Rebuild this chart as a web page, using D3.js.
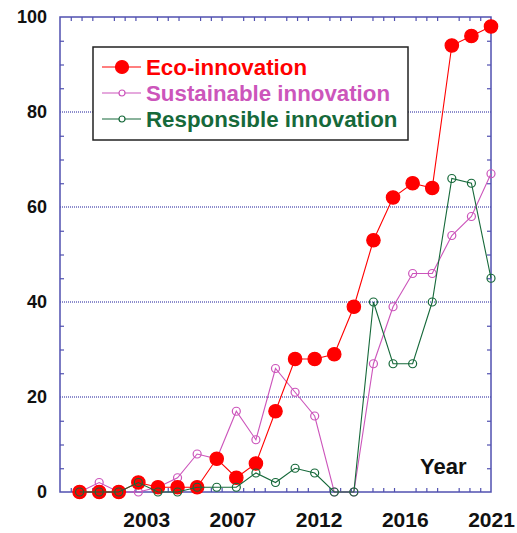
<!DOCTYPE html>
<html>
<head>
<meta charset="utf-8">
<script src="https://cdn.jsdelivr.net/npm/d3@7"></script>
<style>
  body { margin: 0; background: #fff; }
  text { font-family: "Liberation Sans", Arial, sans-serif; font-weight: bold; }
</style>
</head>
<body>
<svg id="chart"></svg>
<script>
const width = 517;
const height = 533;

// data
const years = d3.range(2000, 2022);
const eco  = [0, 0, 0, 2, 1, 1, 1, 7, 3, 6, 17, 28, 28, 29, 39, 53, 62, 65, 64, 94, 96, 98];
const sust = [0, 2, 0, 0, 1, 3, 8, 7, 17, 11, 26, 21, 16, 0, 0, 27, 39, 46, 46, 54, 58, 67];
const resp = [0, 0, 0, 2, 0, 0, 1, 1, 1, 4, 2, 5, 4, 0, 0, 40, 27, 27, 40, 66, 65, 45];

const seriesNames = ["Eco-innovation", "Sustainable innovation", "Responsible innovation"];
const yLabels = [0, 20, 40, 60, 80, 100];
const xLabelPos = [2003.4, 2007.8, 2012.2, 2016.6, 2021];
const xLabelText = ["2003", "2007", "2012", "2016", "2021"];

const axisColor = "#5050b0";
const colors = ["#ff0000", "#cc55bb", "#16693a"];

const margin = {left: 60, right: 26, top: 17, bottom: 41};

const svg = d3.select("#chart")
  .attr("width", width)
  .attr("height", height);

const x = d3.scaleLinear().domain([1999, 2021]).range([margin.left, width - margin.right]);
const y = d3.scaleLinear().domain([0, 100]).range([height - margin.bottom, margin.top]);

// dotted grid lines
svg.append("g")
  .selectAll("line")
  .data([20, 40, 60, 80])
  .join("line")
    .attr("x1", x(1999)).attr("x2", x(2021))
    .attr("y1", d => y(d)).attr("y2", d => y(d))
    .attr("stroke", "#1a1a99")
    .attr("stroke-width", 1)
    .attr("stroke-dasharray", "1,1");

// minor ticks: x every 0.55 yr (skipping the major spots), y every 5
const xMinor = d3.range(1, 40).filter(j => j % 4 !== 0).map(j => 1999 + 0.55 * j);
const yMinor = d3.range(5, 100, 5).filter(v => v % 20 !== 0);

function styleTicks(g) {
  g.select(".domain").remove();
  g.selectAll(".tick line").attr("stroke", axisColor).attr("stroke-width", 1.2);
}

svg.append("g").attr("transform", `translate(0,${y(0)})`)
  .call(d3.axisBottom(x).tickValues(xMinor).tickSize(-4).tickFormat(""))
  .call(styleTicks);
svg.append("g").attr("transform", `translate(0,${y(100)})`)
  .call(d3.axisTop(x).tickValues(xMinor).tickSize(-4).tickFormat(""))
  .call(styleTicks);
svg.append("g").attr("transform", `translate(${x(1999)},0)`)
  .call(d3.axisLeft(y).tickValues(yMinor).tickSize(-4).tickFormat(""))
  .call(styleTicks);
svg.append("g").attr("transform", `translate(${x(2021)},0)`)
  .call(d3.axisRight(y).tickValues(yMinor).tickSize(-4).tickFormat(""))
  .call(styleTicks);

// tick labels
svg.append("g").attr("transform", `translate(${x(1999)},0)`)
  .call(d3.axisLeft(y).tickValues(yLabels).tickSize(0).tickPadding(13))
  .call(g => g.select(".domain").remove())
  .call(g => g.selectAll("text")
    .attr("font-family", null).attr("fill", "#111").style("font-size", "18px"));

svg.append("g").attr("transform", `translate(0,${y(0)})`)
  .call(d3.axisBottom(x).tickValues(xLabelPos).tickSize(0).tickPadding(20)
    .tickFormat((d, i) => xLabelText[i]))
  .call(g => g.select(".domain").remove())
  .call(g => g.selectAll("text")
    .attr("font-family", null).attr("fill", "#111").style("font-size", "21px"));

// frame
svg.append("rect")
  .attr("x", x(1999)).attr("y", y(100))
  .attr("width", x(2021) - x(1999)).attr("height", y(0) - y(100))
  .attr("fill", "none")
  .attr("stroke", axisColor)
  .attr("stroke-width", 1.5);

const line = d3.line()
  .x((d, i) => x(years[i]))
  .y(d => y(d));

// sustainable (under), eco, responsible (on top)
const drawOrder = [
  {values: sust, color: colors[1], r: 4, filled: false},
  {values: eco,  color: colors[0], r: 6.7, filled: true},
  {values: resp, color: colors[2], r: 4, filled: false}
];

drawOrder.forEach(s => {
  const g = svg.append("g");
  g.append("path")
    .datum(s.values)
    .attr("d", line)
    .attr("fill", "none")
    .attr("stroke", s.color)
    .attr("stroke-width", 1.1);
  g.selectAll("circle")
    .data(s.values)
    .join("circle")
      .attr("cx", (d, i) => x(years[i]))
      .attr("cy", d => y(d))
      .attr("r", s.r)
      .attr("fill", s.filled ? s.color : "none")
      .attr("stroke", s.color)
      .attr("stroke-width", 1.2);
});

// legend
const legend = svg.append("g").attr("transform", "translate(93,47)");
legend.append("rect")
  .attr("width", 315).attr("height", 93)
  .attr("fill", "#fff")
  .attr("stroke", "#222")
  .attr("stroke-width", 1.5);

const legendRows = legend.selectAll("g.row")
  .data(seriesNames)
  .join("g")
    .attr("class", "row")
    .attr("transform", (d, i) => `translate(0,${20 + i * 26})`);

legendRows.append("line")
  .attr("x1", 9).attr("x2", 48)
  .attr("stroke", (d, i) => colors[i])
  .attr("stroke-width", 1.1);
legendRows.append("circle")
  .attr("cx", 29)
  .attr("r", (d, i) => i === 0 ? 6.5 : 3)
  .attr("fill", (d, i) => i === 0 ? colors[0] : "#fff")
  .attr("stroke", (d, i) => colors[i])
  .attr("stroke-width", 1.2);
legendRows.append("text")
  .attr("x", 53)
  .attr("dy", "0.36em")
  .attr("fill", (d, i) => colors[i])
  .style("font-size", "22.3px")
  .text(d => d);

svg.append("text")
  .attr("x", 420).attr("y", 474)
  .attr("fill", "#111")
  .style("font-size", "22px")
  .text("Year");
</script>
</body>
</html>
